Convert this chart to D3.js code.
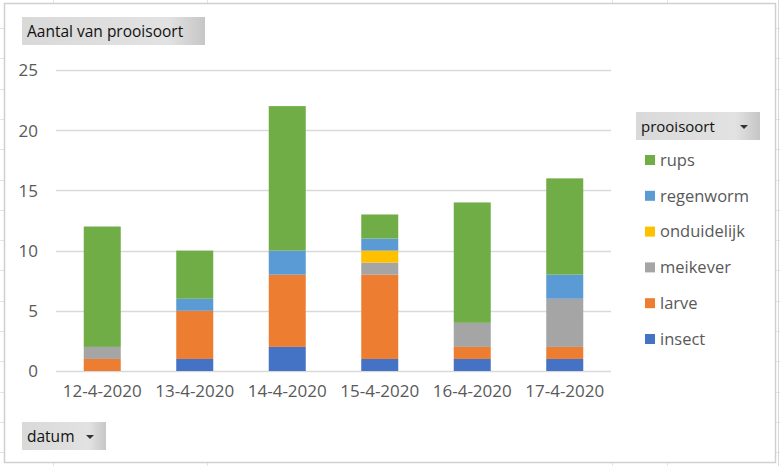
<!DOCTYPE html>
<html><head><meta charset="utf-8">
<script src="https://cdn.jsdelivr.net/npm/d3@7"></script>
<style>body{margin:0;background:#fff}svg{display:block}</style>
</head><body><svg id="c" width="780" height="466"></svg>
<script>
const dates = ["12-4-2020","13-4-2020","14-4-2020","15-4-2020","16-4-2020","17-4-2020"];
const seriesNames = ["insect","larve","meikever","onduidelijk","regenworm","rups"];
const insect      = [0,1,2,1,1,1];
const larve       = [1,4,6,7,1,1];
const meikever    = [1,0,0,1,2,4];
const onduidelijk = [0,0,0,1,0,0];
const regenworm   = [0,1,2,1,0,2];
const rups        = [10,4,12,2,10,8];
const yTicks = [0,5,10,15,20,25];
const titleLabel = "Aantal van prooisoort";
const legendTitle = "prooisoort";
const axisButton = "datum";

const colors = {insect:"#4472C4",larve:"#ED7D31",meikever:"#A5A5A5",onduidelijk:"#FFC000",regenworm:"#5B9BD5",rups:"#70AD47"};
const valuesBy = {insect,larve,meikever,onduidelijk,regenworm,rups};
const rows = dates.map((d,i)=>{const o={date:d};seriesNames.forEach(s=>o[s]=valuesBy[s][i]);return o;});
const stacked = d3.stack().keys(seriesNames)(rows);

const svg = d3.select("#c");
const font = "'Open Sans', sans-serif";

// spreadsheet background gridlines
const bg = svg.append("g").attr("stroke","#e4e4e4").attr("stroke-width",1);
for(let y=28;y<466;y+=30.3){ bg.append("line").attr("x1",0).attr("x2",4).attr("y1",Math.round(y)+0.5).attr("y2",Math.round(y)+0.5);
  bg.append("line").attr("x1",776).attr("x2",780).attr("y1",Math.round(y)+0.5).attr("y2",Math.round(y)+0.5);}
[53,207,612,667].forEach(x=>{bg.append("line").attr("x1",x+0.5).attr("x2",x+0.5).attr("y1",0).attr("y2",3);
  bg.append("line").attr("x1",x+0.5).attr("x2",x+0.5).attr("y1",463).attr("y2",466);});
svg.append("line").attr("x1",778.5).attr("x2",778.5).attr("y1",0).attr("y2",466).attr("stroke","#d8d8d8");

// chart area
svg.append("rect").attr("x",4.5).attr("y",3.5).attr("width",771).attr("height",459)
  .attr("fill","#fff").attr("stroke","#d0d0d0").attr("stroke-width",1.5);

const x = d3.scaleBand().domain(dates).range([56,611]).paddingInner(0.6).paddingOuter(0.3);
const y = d3.scaleLinear().domain([0,25]).range([371,70]);

// gridlines
svg.append("g").selectAll("line").data(yTicks).join("line")
  .attr("x1",56).attr("x2",611).attr("y1",d=>Math.round(y(d))+0.5).attr("y2",d=>Math.round(y(d))+0.5)
  .attr("stroke","#d9d9d9").attr("stroke-width",1.5);

// y axis labels
const yAxis = d3.axisLeft(y).tickValues(yTicks).tickSize(0).tickPadding(0);
const ya = svg.append("g").attr("transform","translate(38,0)").call(yAxis);
ya.select(".domain").remove();
ya.selectAll("text").attr("font-family",font).attr("font-size",17).attr("fill","#595959").attr("dy","0.35em");

// bars
svg.append("g").selectAll("g").data(stacked).join("g").attr("fill",d=>colors[d.key])
  .selectAll("rect").data(d=>d).join("rect")
  .attr("x",d=>x(d.data.date)).attr("width",x.bandwidth())
  .attr("y",d=>y(d[1])).attr("height",d=>y(d[0])-y(d[1]));

// x axis labels
const xAxis = d3.axisBottom(x).tickSize(0).tickPadding(0);
const xa = svg.append("g").attr("transform","translate(0,386)").call(xAxis);
xa.select(".domain").remove();
xa.selectAll("text").attr("font-family",font).attr("font-size",17).attr("fill","#595959").attr("dy","0.65em");

// buttons
const grad = svg.append("defs").append("linearGradient").attr("id","btn").attr("x1",0).attr("x2",1).attr("y1",0).attr("y2",0);
grad.append("stop").attr("offset","0%").attr("stop-color","#d9d9d9");
grad.append("stop").attr("offset","80%").attr("stop-color","#e2e2e2");
grad.append("stop").attr("offset","100%").attr("stop-color","#c6c6c6");
function button(bx,by,w,label,arrow,fs){
  const g = svg.append("g");
  g.append("rect").attr("x",bx).attr("y",by).attr("width",w).attr("height",28).attr("fill","url(#btn)");
  g.append("text").attr("x",bx+5).attr("y",by+20).text(label).attr("font-family",font).attr("font-size",fs).attr("fill","#111");
  if(arrow){ const ax=bx+w-16, ay=by+13;
    g.append("path").attr("d",`M${ax-4},${ay} L${ax+4},${ay} L${ax},${ay+4} Z`).attr("fill","#333"); }
}
button(22,17,183,titleLabel,false,15.5);
button(636,112,124,legendTitle,true,15);
button(22,422,84,axisButton,true,15.5);

// legend
const legendOrder = seriesNames.slice().reverse();
const lg = svg.append("g").selectAll("g").data(legendOrder).join("g")
  .attr("transform",(d,i)=>`translate(645,${160+i*35.8})`);
lg.append("rect").attr("x",0).attr("y",-5).attr("width",10).attr("height",10).attr("fill",d=>colors[d]);
lg.append("text").attr("x",15).attr("dy","0.35em").text(d=>d).attr("font-family",font).attr("font-size",16.5).attr("fill","#595959");
</script></body></html>
